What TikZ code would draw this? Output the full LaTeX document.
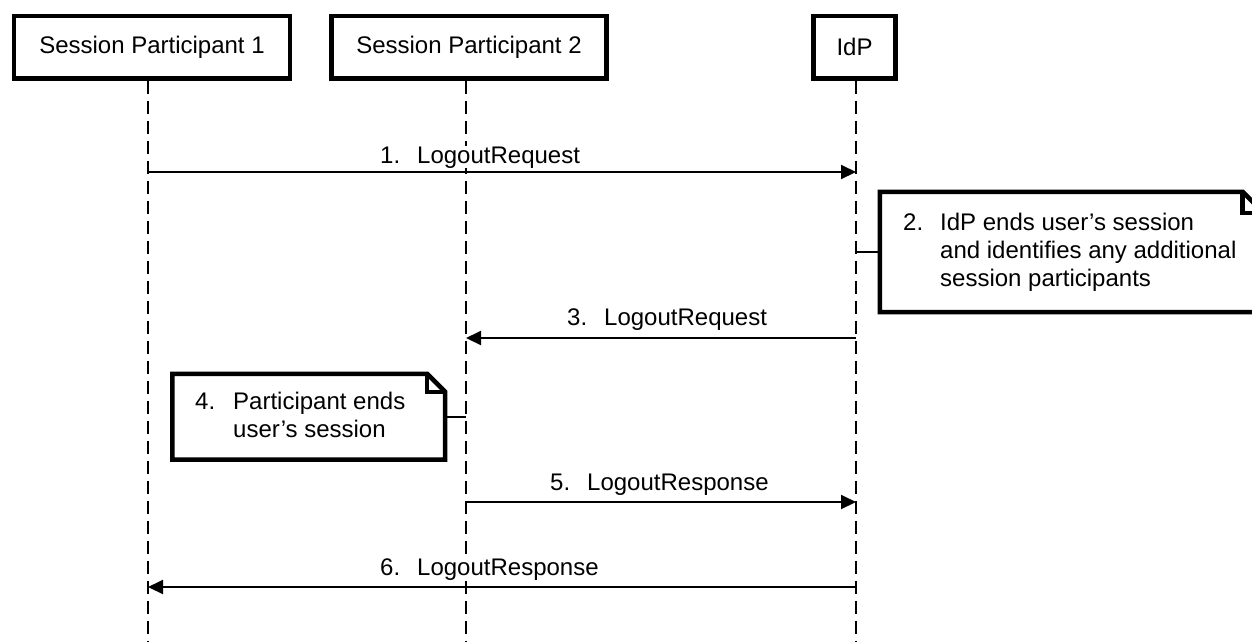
\documentclass[tikz,border=0pt]{standalone}
\usepackage{fontspec}
\setmainfont{Liberation Sans}
\usetikzlibrary{arrows.meta,calc}
\begin{document}
\begin{tikzpicture}[x=1pt,y=-1pt,
  every node/.style={font=\fontsize{24}{28}\selectfont},
  actor/.style={draw,line width=4.5pt,inner sep=0pt,minimum height=62.5pt},
  life/.style={line width=2pt,dash pattern=on 13pt off 7pt},
  msg/.style={line width=2pt,-{Triangle[length=15pt,width=14pt]}},
  lbl/.style={anchor=base west,inner sep=0pt,fill=white},
  notebox/.style={line width=4.5pt,line join=miter},
  noteshape/.style={inner sep=0pt},
  notetext/.style={anchor=west,inner sep=0pt,align=left},
  conn/.style={line width=2pt}]
\useasboundingbox (0,0) rectangle (1252,641);
% actors
\node[actor,minimum width=276pt] (a1) at (152,47.25) {Session Participant 1};
\node[actor,minimum width=275pt] (a2) at (469,47.25) {Session Participant 2};
\node[actor,minimum width=82pt] (a3) at (854.5,47.25) {IdP};
% lifelines
\coordinate (e1) at (148,641);
\coordinate (e2) at (466,641);
\coordinate (e3) at (856,641);
\draw[life] (a1.south -| e1) -- (e1);
\draw[life] (a2.south -| e2) -- (e2);
\draw[life] (a3.south -| e3) -- (e3);
% message rows
\coordinate (y1) at (0,172);
\coordinate (y3) at (0,338);
\coordinate (y5) at (0,502);
\coordinate (y6) at (0,587);
\draw[msg] (e1 |- y1) -- (e3 |- y1);
\draw[msg] (e3 |- y3) -- (e2 |- y3);
\draw[msg] (e2 |- y5) -- (e3 |- y5);
\draw[msg] (e3 |- y6) -- (e1 |- y6);
\node[lbl] (l1) at (380,163) {\makebox[37pt][l]{1.}LogoutRequest};
\node[lbl] (l3) at (567,325) {\makebox[37pt][l]{3.}LogoutRequest};
\node[lbl] (l5) at (550,490) {\makebox[37pt][l]{5.}LogoutResponse};
\node[lbl] (l6) at (380,575) {\makebox[37pt][l]{6.}LogoutResponse};
% note 2
\node[noteshape,minimum width=383.5pt,minimum height=120pt] (n2) at (1071.75,252) {};
\draw[notebox] (n2.north west) -- ($(n2.north east)+(-21,0)$) -- ($(n2.north east)+(0,21)$) -- (n2.south east) -- (n2.south west) -- cycle;
\draw[notebox] ($(n2.north east)+(-21,0)$) -- ($(n2.north east)+(-21,21)$) -- ($(n2.north east)+(0,21)$);
\draw[conn] (e3 |- n2.west) -- (n2.west);
\node[notetext] (t2) at (903,252) {\makebox[37pt][l]{2.}IdP ends user’s session\\\hspace*{37pt}and identifies any additional\\\hspace*{37pt}session participants};
% note 4
\node[noteshape,minimum width=272.5pt,minimum height=85.5pt] (n4) at (308.75,416.75) {};
\draw[notebox] (n4.north west) -- ($(n4.north east)+(-18,0)$) -- ($(n4.north east)+(0,18)$) -- (n4.south east) -- (n4.south west) -- cycle;
\draw[notebox] ($(n4.north east)+(-18,0)$) -- ($(n4.north east)+(-18,18)$) -- ($(n4.north east)+(0,18)$);
\draw[conn] (n4.east) -- (e2 |- n4.east);
\node[notetext] (t4) at (195,414.5) {\makebox[38pt][l]{4.}Participant ends\\\hspace*{38pt}user’s session};
\end{tikzpicture}
\end{document}
